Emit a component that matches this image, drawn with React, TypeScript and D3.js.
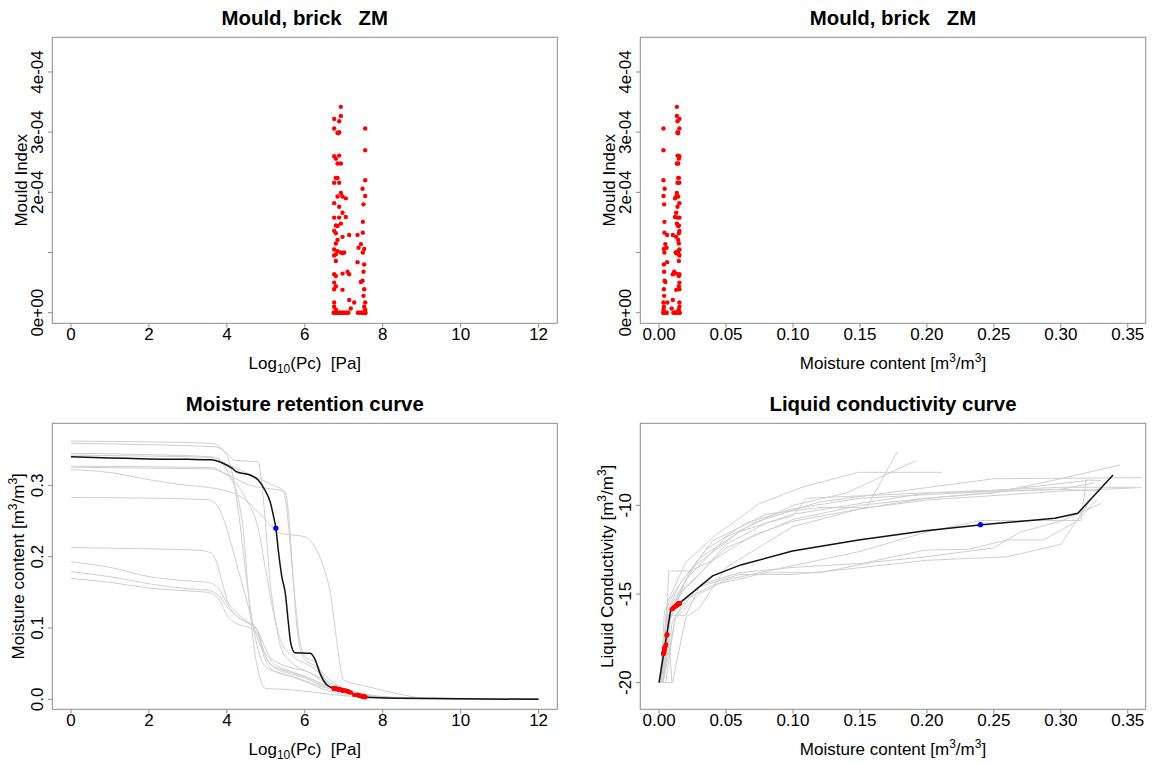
import React from 'react';
import * as d3 from 'd3';

type P = [number, number];

// ---------- tick definitions ----------
const logPcTicks = [0, 2, 4, 6, 8, 10, 12];
const logPcTickLabels = ['0', '2', '4', '6', '8', '10', '12'];
const moistureTicks = [0, 0.05, 0.1, 0.15, 0.2, 0.25, 0.3, 0.35];
const moistureTickLabels = ['0.00', '0.05', '0.10', '0.15', '0.20', '0.25', '0.30', '0.35'];
const mouldTicks = [0, 1e-4, 2e-4, 3e-4, 4e-4];
const mouldTickLabels = ['0e+00', '', '2e-04', '3e-04', '4e-04'];
const retentionTicks = [0, 0.1, 0.2, 0.3];
const retentionTickLabels = ['0.0', '0.1', '0.2', '0.3'];
const conductivityTicks = [-20, -15, -10];
const conductivityTickLabels = ['-20', '-15', '-10'];

// ---------- mould samples: [log10 Pc, moisture content, log10 K, mould index] ----------
const mouldSamples: [number, number, number, number][] = [
  [6.925, 0.0133, -15.63, 3.42e-4],
  [6.754, 0.0152, -15.52, 3.22e-4],
  [6.925, 0.0133, -15.63, 3.27e-4],
  [6.882, 0.0138, -15.60, 3.18e-4],
  [6.754, 0.0152, -15.52, 3.06e-4],
  [6.840, 0.0143, -15.57, 2.99e-4],
  [6.882, 0.0138, -15.60, 3.00e-4],
  [6.860, 0.0141, -15.58, 2.98e-4],
  [6.754, 0.0152, -15.52, 2.60e-4],
  [6.797, 0.0148, -15.54, 2.56e-4],
  [6.882, 0.0138, -15.60, 2.61e-4],
  [6.840, 0.0143, -15.57, 2.48e-4],
  [6.925, 0.0133, -15.63, 2.48e-4],
  [6.797, 0.0148, -15.54, 2.24e-4],
  [6.840, 0.0143, -15.57, 2.24e-4],
  [6.754, 0.0152, -15.52, 2.16e-4],
  [6.882, 0.0138, -15.60, 2.16e-4],
  [6.840, 0.0143, -15.57, 1.93e-4],
  [6.925, 0.0133, -15.63, 1.99e-4],
  [6.968, 0.0128, -15.66, 1.93e-4],
  [7.053, 0.0119, -15.71, 1.90e-4],
  [6.754, 0.0152, -15.52, 1.82e-4],
  [6.882, 0.0138, -15.60, 1.76e-4],
  [6.968, 0.0128, -15.66, 1.66e-4],
  [6.754, 0.0152, -15.52, 1.58e-4],
  [6.882, 0.0138, -15.60, 1.58e-4],
  [7.053, 0.0119, -15.71, 1.59e-4],
  [6.797, 0.0148, -15.54, 1.45e-4],
  [6.840, 0.0143, -15.57, 1.44e-4],
  [6.925, 0.0133, -15.63, 1.48e-4],
  [6.754, 0.0152, -15.52, 1.36e-4],
  [6.797, 0.0148, -15.54, 1.32e-4],
  [6.968, 0.0128, -15.66, 1.26e-4],
  [7.139, 0.0103, -15.81, 1.29e-4],
  [6.840, 0.0143, -15.57, 1.21e-4],
  [6.797, 0.0148, -15.54, 1.15e-4],
  [6.754, 0.0152, -15.52, 1.05e-4],
  [6.840, 0.0143, -15.57, 1.02e-4],
  [6.925, 0.0133, -15.63, 1.00e-4],
  [6.968, 0.0128, -15.66, 0.99e-4],
  [7.011, 0.0124, -15.68, 1.00e-4],
  [6.797, 0.0148, -15.54, 0.97e-4],
  [6.754, 0.0152, -15.52, 0.95e-4],
  [6.797, 0.0148, -15.54, 0.86e-4],
  [6.754, 0.0152, -15.52, 0.64e-4],
  [6.797, 0.0148, -15.54, 0.61e-4],
  [6.968, 0.0128, -15.66, 0.65e-4],
  [7.096, 0.0113, -15.75, 0.68e-4],
  [7.139, 0.0103, -15.81, 0.64e-4],
  [6.754, 0.0152, -15.52, 0.50e-4],
  [6.797, 0.0148, -15.54, 0.44e-4],
  [6.754, 0.0152, -15.52, 0.39e-4],
  [6.968, 0.0128, -15.66, 0.38e-4],
  [6.754, 0.0152, -15.52, 0.17e-4],
  [7.139, 0.0103, -15.81, 0.21e-4],
  [7.268, 0.0062, -17.28, 0.17e-4],
  [7.550, 0.0033, -18.35, 3.06e-4],
  [7.550, 0.0033, -18.35, 2.70e-4],
  [7.550, 0.0033, -18.35, 2.20e-4],
  [7.482, 0.0042, -18.02, 2.06e-4],
  [7.550, 0.0033, -18.35, 1.94e-4],
  [7.507, 0.0038, -18.21, 1.80e-4],
  [7.490, 0.0040, -18.10, 1.51e-4],
  [7.353, 0.0060, -17.28, 1.29e-4],
  [7.490, 0.0040, -18.10, 1.33e-4],
  [7.439, 0.0047, -17.95, 1.14e-4],
  [7.379, 0.0056, -17.36, 1.08e-4],
  [7.524, 0.0036, -18.28, 1.06e-4],
  [7.490, 0.0040, -18.10, 1.00e-4],
  [7.353, 0.0060, -17.28, 0.84e-4],
  [7.524, 0.0036, -18.28, 0.80e-4],
  [7.507, 0.0038, -18.21, 0.68e-4],
  [7.482, 0.0042, -18.02, 0.53e-4],
  [7.439, 0.0047, -17.95, 0.51e-4],
  [7.524, 0.0036, -18.28, 0.39e-4],
  [7.507, 0.0038, -18.21, 0.28e-4],
  [7.550, 0.0033, -18.35, 0.17e-4],
  [6.754, 0.0152, -15.52, 0.10e-4],
  [6.797, 0.0148, -15.54, 0.05e-4],
  [7.524, 0.0036, -18.28, 0.10e-4],
  [7.550, 0.0033, -18.35, 0.05e-4],
  [7.180, 0.0094, -15.86, 0.07e-4],
  [6.740, 0.0154, -15.51, 0],
  [6.760, 0.0152, -15.52, 0],
  [6.780, 0.0150, -15.53, 0],
  [6.800, 0.0147, -15.55, 0],
  [6.820, 0.0145, -15.56, 0],
  [6.840, 0.0143, -15.57, 0],
  [6.870, 0.0140, -15.59, 0],
  [6.900, 0.0136, -15.61, 0],
  [6.930, 0.0133, -15.63, 0],
  [6.960, 0.0129, -15.65, 0],
  [7.000, 0.0125, -15.68, 0],
  [7.040, 0.0120, -15.71, 0],
  [7.080, 0.0116, -15.73, 0],
  [7.120, 0.0107, -15.78, 0],
  [7.360, 0.0058, -17.30, 0],
  [7.400, 0.0052, -17.85, 0],
  [7.440, 0.0047, -17.95, 0],
  [7.480, 0.0042, -18.02, 0],
  [7.510, 0.0038, -18.21, 0],
  [7.540, 0.0034, -18.30, 0],
  [7.560, 0.0032, -18.38, 0],
];

// current state (blue point)
const currentLogPc = 5.257;
const currentMoisture = 0.240;
const currentLogK = -11.09;

// ---------- moisture retention curves [log10 Pc, w] ----------
const retentionBlack: P[] = [
  [0, 0.340], [1, 0.3385], [2, 0.337], [3, 0.3365], [3.6, 0.336], [3.9, 0.331], [4.13, 0.324],
  [4.25, 0.319], [4.6, 0.3145], [4.81, 0.307], [4.98, 0.293], [5.11, 0.277], [5.2, 0.256],
  [5.257, 0.240], [5.32, 0.209], [5.41, 0.172], [5.5, 0.1486], [5.58, 0.1065], [5.64, 0.0785],
  [5.75, 0.0654], [6.14, 0.0645], [6.27, 0.055], [6.39, 0.0364], [6.57, 0.020], [6.74, 0.0154],
  [7.08, 0.0116], [7.29, 0.007], [7.55, 0.0028], [8.45, 0.0014], [10, 0.0007], [12, 0.0],
];
const retentionGreyA: P[] = [[0, 0.362], [2, 0.361], [3.6, 0.359], [3.85, 0.352], [4.05, 0.335], [4.2, 0.30], [4.35, 0.24], [4.5, 0.17], [4.65, 0.11], [4.8, 0.07], [5.0, 0.045], [5.5, 0.035], [6.0, 0.025], [6.6, 0.012], [7.5, 0.004], [9, 0.001], [12, 0]];
const retentionGreyB: P[] = [[0, 0.359], [2, 0.357], [3.7, 0.354], [4.0, 0.345], [4.2, 0.335], [4.8, 0.333], [4.9, 0.30], [5.0, 0.24], [5.1, 0.17], [5.25, 0.11], [5.4, 0.07], [5.7, 0.05], [6.2, 0.035], [6.6, 0.02], [7.2, 0.008], [8.5, 0.002], [12, 0]];
const retentionGreyC: P[] = [[0, 0.345], [2, 0.343], [3.6, 0.340], [3.9, 0.33], [4.1, 0.31], [4.3, 0.28], [4.45, 0.22], [4.55, 0.15], [4.68, 0.08], [4.85, 0.03], [5.0, 0.015], [5.5, 0.014], [6.2, 0.01], [7, 0.005], [8, 0.002], [12, 0]];
const retentionGreyD: P[] = [[0, 0.3425], [2, 0.341], [3.7, 0.339], [4.0, 0.33], [4.4, 0.32], [4.8, 0.31], [5.2, 0.30], [5.5, 0.29], [5.6, 0.25], [5.7, 0.17], [5.8, 0.10], [5.95, 0.06], [6.3, 0.045], [6.7, 0.025], [7.3, 0.01], [8.5, 0.002], [12, 0]];
const retentionGreyE: P[] = [[0, 0.327], [2, 0.326], [3.6, 0.325], [3.9, 0.318], [4.2, 0.305], [4.5, 0.28], [4.8, 0.24], [5.0, 0.18], [5.2, 0.12], [5.4, 0.08], [5.7, 0.06], [6.2, 0.045], [6.6, 0.025], [7.2, 0.012], [8.2, 0.003], [12, 0]];
const retentionGreyF: P[] = [[0, 0.3255], [2, 0.324], [3.6, 0.323], [3.9, 0.318], [4.2, 0.31], [4.6, 0.30], [5.0, 0.296], [5.45, 0.292], [5.55, 0.26], [5.65, 0.20], [5.75, 0.14], [5.85, 0.09], [6.0, 0.06], [6.3, 0.05], [6.5, 0.03], [6.8, 0.015], [7.5, 0.006], [8.5, 0.002], [12, 0]];
const retentionGreyG: P[] = [[0, 0.322], [1, 0.318], [2, 0.308], [3, 0.300], [3.4, 0.298], [4.0, 0.292], [4.3, 0.286], [4.8, 0.263], [5.1, 0.245], [5.35, 0.233], [6.0, 0.228], [6.2, 0.218], [6.45, 0.19], [6.67, 0.144], [6.8, 0.09], [7.0, 0.027], [7.6, 0.018], [8.55, 0.006], [9, 0.002], [12, 0]];
const retentionGreyH: P[] = [[0, 0.283], [2, 0.282], [3.5, 0.280], [3.7, 0.275], [3.9, 0.255], [4.1, 0.22], [4.3, 0.18], [4.5, 0.14], [4.7, 0.10], [4.9, 0.07], [5.2, 0.055], [5.6, 0.045], [6.0, 0.04], [6.4, 0.03], [6.8, 0.015], [7.5, 0.005], [8.5, 0.001], [12, 0]];
const retentionGreyI: P[] = [[0, 0.2126], [2, 0.211], [3.3, 0.209], [3.6, 0.205], [3.75, 0.19], [3.9, 0.16], [4.0, 0.14], [4.2, 0.125], [4.5, 0.11], [4.75, 0.10], [4.85, 0.085], [5.0, 0.06], [5.2, 0.045], [5.5, 0.038], [6.0, 0.03], [6.5, 0.018], [7.2, 0.008], [8.3, 0.002], [12, 0]];
const retentionGreyJ: P[] = [[0, 0.193], [1, 0.185], [2, 0.172], [3, 0.166], [3.5, 0.164], [3.8, 0.155], [4.0, 0.135], [4.2, 0.12], [4.5, 0.108], [4.75, 0.10], [4.9, 0.075], [5.1, 0.05], [5.5, 0.04], [6.0, 0.032], [6.5, 0.02], [7.2, 0.008], [8.5, 0.002], [12, 0]];
const retentionGreyK: P[] = [[0, 0.179], [1, 0.172], [2, 0.162], [3, 0.155], [3.5, 0.153], [3.8, 0.145], [4.0, 0.13], [4.3, 0.115], [4.6, 0.105], [4.8, 0.095], [5.0, 0.07], [5.2, 0.05], [5.6, 0.04], [6.1, 0.03], [6.6, 0.018], [7.3, 0.007], [8.5, 0.002], [12, 0]];
const retentionGreyL: P[] = [[0, 0.1696], [1, 0.164], [2, 0.156], [3, 0.152], [3.5, 0.150], [3.8, 0.14], [4.0, 0.118], [4.3, 0.105], [4.6, 0.10], [4.8, 0.09], [4.95, 0.06], [5.2, 0.04], [5.8, 0.03], [6.3, 0.02], [7, 0.01], [8.2, 0.002], [12, 0]];
const retentionGrey = [retentionGreyA, retentionGreyB, retentionGreyC, retentionGreyD, retentionGreyE, retentionGreyF, retentionGreyG, retentionGreyH, retentionGreyI, retentionGreyJ, retentionGreyK, retentionGreyL];

// ---------- liquid conductivity curves [w, log10 K] ----------
const conductivityBlack: P[] = [
  [0, -20], [0.0087, -15.9], [0.0157, -15.49], [0.040, -13.98], [0.061, -13.36], [0.0996, -12.58],
  [0.149, -11.95], [0.199, -11.43], [0.241, -11.09], [0.2956, -10.73], [0.3127, -10.45], [0.339, -8.29],
];
const conductivityGreyA: P[] = [[0.002, -20], [0.006, -16], [0.015, -14.5], [0.04, -12], [0.08, -10.5], [0.119, -10.13], [0.155, -10.13], [0.178, -6.97]];
const conductivityGreyB: P[] = [[0.003, -20], [0.008, -16.5], [0.02, -14.2], [0.05, -11.8], [0.1, -10], [0.14, -9.3], [0.192, -7.48]];
const conductivityGreyC: P[] = [[0.001, -20], [0.006, -15.5], [0.02, -13.2], [0.042, -11.7], [0.075, -9.9], [0.108, -8.95], [0.149, -8.14], [0.211, -8.14]];
const conductivityGreyD: P[] = [[0.002, -20], [0.01, -15.5], [0.03, -13], [0.07, -11], [0.12, -9.8], [0.2, -9.0], [0.25, -8.5], [0.36, -8.44]];
const conductivityGreyE: P[] = [[0.001, -20], [0.008, -16], [0.025, -13.5], [0.06, -11.5], [0.1, -10.5], [0.2, -9.3], [0.3, -8.98], [0.356, -8.98]];
const conductivityGreyF: P[] = [[0.002, -20], [0.008, -16], [0.02, -14.6], [0.05, -12.4], [0.1, -10.8], [0.15, -10], [0.2, -9.6], [0.25, -9.3], [0.3, -8.5], [0.344, -7.73]];
const conductivityGreyG: P[] = [[0.003, -20], [0.012, -16.4], [0.03, -15], [0.05, -14.2], [0.1, -13.4], [0.15, -12.6], [0.2, -11.5], [0.24, -10.86], [0.315, -10.86], [0.319, -8.57], [0.33, -8.6]];
const conductivityGreyH: P[] = [[0.003, -20], [0.01, -16.5], [0.03, -14.5], [0.06, -13.8], [0.1, -13.5], [0.152, -13.27], [0.199, -12.52], [0.231, -12.48], [0.26, -11.95], [0.287, -11.95], [0.312, -10.9], [0.327, -9.66]];
const conductivityGreyI: P[] = [[0.005, -20], [0.012, -16.3], [0.02, -15.3], [0.04, -14.5], [0.08, -13.8], [0.12, -13.8], [0.16, -13.2], [0.2, -12.9], [0.25, -12.4], [0.27, -11.5], [0.3, -10.9], [0.33, -9.9]];
const conductivityGreyJ: P[] = [[0, -20], [0.0097, -20], [0.006, -16.2], [0.007, -13.7], [0.023, -13.7], [0.04, -13.1], [0.07, -11.7], [0.1, -10.9], [0.15, -10.2], [0.2, -9.7], [0.3, -9.2], [0.36, -9.0]];
const conductivityGreyK: P[] = [[0.003, -20], [0.005, -16.5], [0.015, -15], [0.025, -14.3], [0.05, -12.2], [0.08, -11], [0.1, -10.6], [0.11, -9.6], [0.2, -9.3], [0.3, -9.1], [0.325, -8.73]];
const conductivityGreyL: P[] = [[0.01, -20], [0.02, -16.3], [0.03, -15.8], [0.05, -13.5], [0.1, -11.2], [0.15, -10.2], [0.2, -9.6], [0.26, -9.2], [0.3, -9.1], [0.33, -9.2]];
const conductivityGreyM: P[] = [[0.001, -20], [0.004, -16], [0.012, -14.8], [0.035, -12.5], [0.065, -11], [0.1, -10.2], [0.15, -9.6], [0.25, -9.2], [0.32, -8.6]];
const conductivityGreyN: P[] = [[0.0, -20], [0.006, -16.2], [0.02, -16.2], [0.03, -14.6], [0.06, -13.9], [0.1, -13.9], [0.14, -13.6], [0.2, -13.1], [0.26, -12.9], [0.3, -12.2], [0.323, -9.6]];
const conductivityGrey = [conductivityGreyA, conductivityGreyB, conductivityGreyC, conductivityGreyD, conductivityGreyE, conductivityGreyF, conductivityGreyG, conductivityGreyH, conductivityGreyI, conductivityGreyJ, conductivityGreyK, conductivityGreyL, conductivityGreyM, conductivityGreyN];

// ---------- layout ----------
const W = 1153;
const H = 765;
const FONT = "'Liberation Sans', Arial, Helvetica, sans-serif";
const FRAME = '#8c8c8c';
const LEFT = { x0: 52.3, x1: 557.3 };
const RIGHT = { x0: 640.3, x1: 1145.7 };
const TOP = { y0: 37.3, y1: 323.3 };
const BOTTOM = { y0: 423.3, y1: 709.3 };

function Frame(props: any) {
  const { x0, x1, y0, y1, xs, ys, xTicks, xTickLabels, yTicks, yTickLabels, title, xTitle, yTitle, yTitleX } = props;
  return (
    <g>
      <rect x={x0} y={y0} width={x1 - x0} height={y1 - y0} fill="none" stroke={FRAME} strokeWidth={1} />
      {xTicks.map((t: number, i: number) => (
        <g key={'x' + i}>
          <line x1={xs(t)} x2={xs(t)} y1={y1} y2={y1 + 4.3} stroke={FRAME} />
          <text x={xs(t)} y={y1 + 16.4} textAnchor="middle">{xTickLabels[i]}</text>
        </g>
      ))}
      {yTicks.map((t: number, i: number) => (
        <g key={'y' + i}>
          <line x1={x0 - 4.3} x2={x0} y1={ys(t)} y2={ys(t)} stroke={FRAME} />
          {yTickLabels[i] ? (
            <text transform={`translate(${x0 - 9.6},${ys(t)}) rotate(-90)`} textAnchor="middle">{yTickLabels[i]}</text>
          ) : null}
        </g>
      ))}
      <text x={(x0 + x1) / 2} y={y0 - 12.8} textAnchor="middle" fontWeight="bold" fontSize={20.4} style={{ whiteSpace: 'pre' }}>{title}</text>
      <text x={(x0 + x1) / 2} y={y1 + 45.2} textAnchor="middle" style={{ whiteSpace: 'pre' }}>{xTitle}</text>
      <text transform={`translate(${yTitleX},${(y0 + y1) / 2}) rotate(-90)`} textAnchor="middle" style={{ whiteSpace: 'pre' }}>{yTitle}</text>
    </g>
  );
}

const logPcTitle = (
  <>
    {'Log'}
    <tspan fontSize={12} dy={4}>10</tspan>
    <tspan dy={-4}>{'(Pc)  [Pa]'}</tspan>
  </>
);
const moistureTitle = (
  <>
    {'Moisture content [m'}
    <tspan fontSize={12} dy={-7}>3</tspan>
    <tspan dy={7}>{'/m'}</tspan>
    <tspan fontSize={12} dy={-7}>3</tspan>
    <tspan dy={7}>{']'}</tspan>
  </>
);
const conductivityTitle = (
  <>
    {'Liquid Conductivity [m'}
    <tspan fontSize={12} dy={-7}>3</tspan>
    <tspan dy={7}>{'/m'}</tspan>
    <tspan fontSize={12} dy={-7}>3</tspan>
    <tspan dy={7}>{']'}</tspan>
  </>
);

export default function App() {
  const xLog = d3.scaleLinear().domain([-0.48, 12.48]).range([LEFT.x0, LEFT.x1]);
  const xW = d3.scaleLinear().domain([-0.014, 0.3634]).range([RIGHT.x0, RIGHT.x1]);
  const yMouldTop = d3.scaleLinear().domain([-0.176e-4, 4.576e-4]).range([TOP.y1, TOP.y0]);
  const yRet = d3.scaleLinear().domain([-0.014, 0.387]).range([BOTTOM.y1, BOTTOM.y0]);
  const yCond = d3.scaleLinear().domain([-21.5, -5.375]).range([BOTTOM.y1, BOTTOM.y0]);

  const retLine = d3.line<P>().x((d) => xLog(d[0])).y((d) => yRet(d[1])).curve(d3.curveMonotoneX);
  const condLine = d3.line<P>().x((d) => xW(d[0])).y((d) => yCond(d[1]));

  const R = 2.2;

  return (
    <svg width={W} height={H} style={{ position: 'absolute', left: 0, top: 0, background: '#fff' }}
      fontFamily={FONT} fontSize={17} fill="#000">
      <defs>
        <clipPath id="clipTL"><rect x={LEFT.x0} y={TOP.y0} width={LEFT.x1 - LEFT.x0} height={TOP.y1 - TOP.y0} /></clipPath>
        <clipPath id="clipTR"><rect x={RIGHT.x0} y={TOP.y0} width={RIGHT.x1 - RIGHT.x0} height={TOP.y1 - TOP.y0} /></clipPath>
        <clipPath id="clipBL"><rect x={LEFT.x0} y={BOTTOM.y0} width={LEFT.x1 - LEFT.x0} height={BOTTOM.y1 - BOTTOM.y0} /></clipPath>
        <clipPath id="clipBR"><rect x={RIGHT.x0} y={BOTTOM.y0} width={RIGHT.x1 - RIGHT.x0} height={BOTTOM.y1 - BOTTOM.y0} /></clipPath>
      </defs>
      <rect x={0} y={0} width={W} height={H} fill="#fff" />

      {/* Top-left: mould vs log Pc */}
      <g clipPath="url(#clipTL)">
        {mouldSamples.map((d, i) => (
          <circle key={i} cx={xLog(d[0])} cy={yMouldTop(d[3])} r={R} fill="#ff0000" />
        ))}
      </g>
      <Frame {...LEFT} {...TOP} xs={xLog} ys={yMouldTop} xTicks={logPcTicks} xTickLabels={logPcTickLabels}
        yTicks={mouldTicks} yTickLabels={mouldTickLabels} title={'Mould, brick   ZM'} xTitle={logPcTitle}
        yTitle={'Mould Index'} yTitleX={26.5} />

      {/* Top-right: mould vs moisture content */}
      <g clipPath="url(#clipTR)">
        {mouldSamples.map((d, i) => (
          <circle key={i} cx={xW(d[1])} cy={yMouldTop(d[3])} r={R} fill="#ff0000" />
        ))}
      </g>
      <Frame {...RIGHT} {...TOP} xs={xW} ys={yMouldTop} xTicks={moistureTicks} xTickLabels={moistureTickLabels}
        yTicks={mouldTicks} yTickLabels={mouldTickLabels} title={'Mould, brick   ZM'} xTitle={moistureTitle}
        yTitle={'Mould Index'} yTitleX={614.6} />

      {/* Bottom-left: moisture retention */}
      <g clipPath="url(#clipBL)">
        {retentionGrey.map((c, i) => (
          <path key={i} d={retLine(c) || ''} fill="none" stroke="#cfcfcf" strokeWidth={1} />
        ))}
        <path d={retLine(retentionBlack) || ''} fill="none" stroke="#111" strokeWidth={1.5} />
        {mouldSamples.map((d, i) => (
          <circle key={i} cx={xLog(d[0])} cy={yRet(d[1])} r={R} fill="#ff0000" />
        ))}
        <circle cx={xLog(currentLogPc)} cy={yRet(currentMoisture)} r={2.6} fill="#0000ff" />
      </g>
      <Frame {...LEFT} {...BOTTOM} xs={xLog} ys={yRet} xTicks={logPcTicks} xTickLabels={logPcTickLabels}
        yTicks={retentionTicks} yTickLabels={retentionTickLabels} title={'Moisture retention curve'} xTitle={logPcTitle}
        yTitle={moistureTitle} yTitleX={24} />

      {/* Bottom-right: liquid conductivity */}
      <g clipPath="url(#clipBR)">
        {conductivityGrey.map((c, i) => (
          <path key={i} d={condLine(c) || ''} fill="none" stroke="#cfcfcf" strokeWidth={1} />
        ))}
        <path d={condLine(conductivityBlack) || ''} fill="none" stroke="#111" strokeWidth={1.5} />
        {mouldSamples.map((d, i) => (
          <circle key={i} cx={xW(d[1])} cy={yCond(d[2])} r={R} fill="#ff0000" />
        ))}
        <circle cx={xW(currentMoisture)} cy={yCond(currentLogK)} r={2.6} fill="#0000ff" />
      </g>
      <Frame {...RIGHT} {...BOTTOM} xs={xW} ys={yCond} xTicks={moistureTicks} xTickLabels={moistureTickLabels}
        yTicks={conductivityTicks} yTickLabels={conductivityTickLabels} title={'Liquid conductivity curve'} xTitle={moistureTitle}
        yTitle={conductivityTitle} yTitleX={612.5} />
    </svg>
  );
}
